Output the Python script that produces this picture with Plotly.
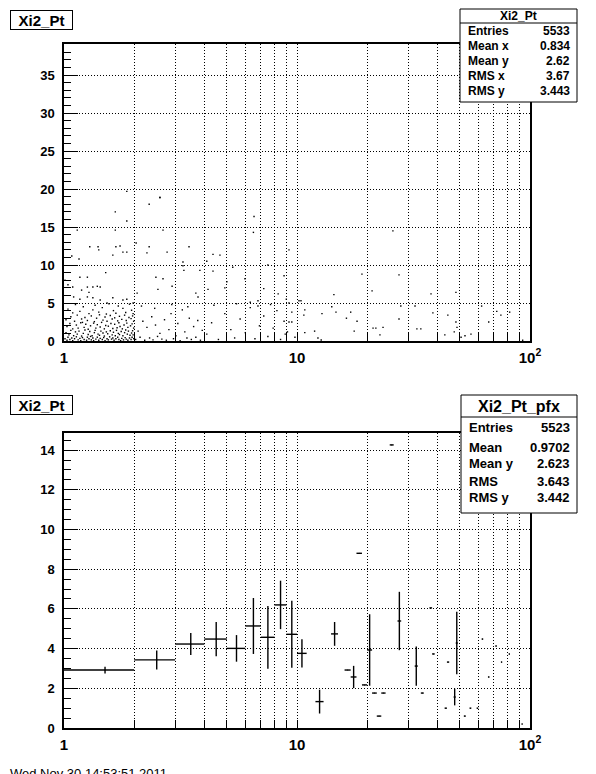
import plotly.graph_objects as go

W, H = 596, 774

# ---------------- top panel: scatter (Pt vs Xi2), dots
scat_x = [
    # dense band x 1-2, y 0-0.6
    1.01, 1.03, 1.04, 1.06, 1.08, 1.09, 1.11, 1.13, 1.15, 1.17, 1.18, 1.20, 1.22, 1.25, 1.26,
    1.28, 1.31, 1.33, 1.34, 1.37, 1.39, 1.41, 1.43, 1.46, 1.48, 1.50, 1.53, 1.55, 1.57, 1.60,
    1.62, 1.64, 1.67, 1.70, 1.72, 1.75, 1.77, 1.80, 1.83, 1.85, 1.88, 1.91, 1.94, 1.96, 1.99,
    # y 0.6-1.5
    1.02, 1.05, 1.07, 1.10, 1.12, 1.14, 1.16, 1.19, 1.21, 1.23, 1.27, 1.29, 1.32, 1.35, 1.36,
    1.40, 1.42, 1.44, 1.47, 1.49, 1.52, 1.54, 1.58, 1.61, 1.63, 1.66, 1.68, 1.71, 1.73, 1.76,
    1.79, 1.82, 1.84, 1.87, 1.89, 1.92, 1.95, 1.97, 1.98, 1.30,
    # y 1.5-2.5
    1.03, 1.06, 1.09, 1.13, 1.15, 1.18, 1.22, 1.24, 1.27, 1.30, 1.34, 1.37, 1.39, 1.43, 1.45,
    1.49, 1.51, 1.55, 1.59, 1.62, 1.65, 1.69, 1.72, 1.74, 1.78, 1.81, 1.86, 1.88, 1.93, 1.96,
    1.99, 1.20,
    # y 2.5-3.5
    1.02, 1.07, 1.11, 1.14, 1.19, 1.23, 1.26, 1.31, 1.35, 1.38, 1.42, 1.47, 1.50, 1.53, 1.58,
    1.61, 1.65, 1.70, 1.73, 1.77, 1.82, 1.85, 1.90, 1.94, 1.97, 1.99,
    # y 3.5-5
    1.04, 1.09, 1.12, 1.17, 1.21, 1.28, 1.33, 1.36, 1.41, 1.46, 1.52, 1.56, 1.63, 1.67, 1.71,
    1.79, 1.84, 1.91, 1.95, 1.98,
    # x 1-2, y above 5
    1.29, 1.40, 1.41, 1.67, 1.74, 1.08, 1.62, 1.79, 1.86, 1.16, 1.17, 1.26, 1.51, 1.01, 1.04,
    1.09, 1.26, 1.33, 1.43, 1.39, 1.19, 1.28, 1.10, 1.17, 1.26, 1.33, 1.43, 1.53, 1.62, 1.79,
    1.86, 1.98, 1.14, 1.66, 1.86, 1.66,
    # x 2-4, y 0-5
    2.03, 2.08, 2.12, 2.18, 2.22, 2.27, 2.33, 2.38, 2.41, 2.47, 2.52, 2.58, 2.63, 2.70, 2.75,
    2.82, 2.88, 2.95, 3.02, 3.08, 3.15, 3.22, 3.30, 3.37, 3.45, 3.52, 3.60, 3.68, 3.75, 3.85,
    3.92, 2.15, 2.45, 2.90, 3.40,
    # x 2-10, y above 5
    2.32, 2.66, 2.04, 2.32, 2.27, 2.77, 4.36, 4.67, 4.10, 3.24, 2.66, 2.48, 3.24, 3.27, 3.83,
    4.36, 5.30, 5.98, 5.00, 2.06, 2.53, 2.91, 3.68, 3.76, 4.15, 4.90, 6.54, 6.50, 3.44, 2.58,
    7.50, 8.30, 9.00, 6.80, 7.20, 8.80, 6.30, 9.24, 9.24,
    # x 4-10, y 0-5
    4.1, 4.3, 4.6, 4.9, 5.2, 5.4, 5.7, 6.0, 6.3, 6.6, 6.9, 7.2, 7.5, 7.9, 8.2,
    8.5, 8.8, 9.1, 9.5, 9.8, 4.4, 5.5, 6.8, 7.7, 8.9, 9.24, 9.5,
    # x 10-100
    25.8, 19.0, 27.4, 21.0, 14.4, 37.6, 48.1, 10.2, 10.4, 14.1, 14.7, 10.8, 10.7, 12.8, 17.0,
    16.3, 18.1, 27.9, 27.4, 32.1, 38.3, 44.4, 48.1, 48.6, 47.3, 43.1, 52.6, 55.8, 62.0, 72.0,
    75.0, 66.5, 81.8, 93.0, 21.2, 21.8, 23.4, 22.7, 32.7, 34.0, 17.6, 11.9, 12.3, 12.7, 10.8,
    50.6,
    # extra sparse dots high up
    1.86, 2.58,
]
scat_y = [
    0.30, 0.10, 0.50, 0.20, 0.40, 0.05, 0.30, 0.55, 0.15, 0.35, 0.05, 0.45, 0.20, 0.10, 0.50,
    0.30, 0.15, 0.40, 0.05, 0.25, 0.50, 0.10, 0.35, 0.20, 0.45, 0.05, 0.30, 0.15, 0.55, 0.25,
    0.40, 0.10, 0.30, 0.50, 0.20, 0.05, 0.35, 0.15, 0.45, 0.25, 0.10, 0.40, 0.20, 0.50, 0.30,
    1.10, 0.80, 1.40, 0.70, 1.20, 0.90, 1.30, 0.65, 1.00, 1.45, 0.85, 1.25, 0.70, 1.10, 1.40,
    0.90, 0.75, 1.30, 1.05, 0.65, 1.20, 0.95, 1.35, 0.80, 1.15, 0.70, 1.40, 1.00, 0.85, 1.25,
    0.70, 1.10, 1.45, 0.90, 1.30, 0.75, 1.05, 1.35, 0.80, 0.60,
    1.90, 2.30, 1.60, 2.10, 1.70, 2.40, 1.80, 2.20, 1.55, 2.00, 2.35, 1.70, 2.15, 1.85, 2.45,
    1.60, 2.05, 1.95, 2.30, 1.65, 2.20, 1.75, 2.40, 1.90, 1.60, 2.10, 2.35, 1.80, 2.00, 2.25,
    1.70, 2.45,
    2.80, 3.20, 2.60, 3.40, 2.90, 3.10, 2.70, 3.30, 2.55, 3.00, 3.45, 2.75, 3.15, 2.60, 3.35,
    2.90, 3.05, 2.65, 3.25, 2.85, 3.40, 2.70, 3.10, 2.95, 3.30, 2.60,
    4.20, 3.70, 4.80, 3.90, 4.50, 3.60, 4.10, 4.70, 3.80, 4.40, 3.55, 4.90, 4.00, 3.65, 4.60,
    4.30, 3.75, 4.85, 4.05, 3.60,
    12.4, 12.4, 12.0, 12.4, 12.5, 11.2, 11.3, 11.7, 11.7, 10.8, 8.4, 8.4, 9.0, 8.0, 7.4,
    7.1, 7.1, 7.1, 7.1, 7.2, 6.7, 6.4, 5.8, 5.5, 5.8, 5.7, 5.4, 5.0, 5.7, 5.4,
    5.5, 5.0, 14.6, 14.6, 15.8, 17.0,
    0.20, 1.30, 0.50, 2.60, 0.10, 1.80, 0.40, 3.20, 0.15, 2.10, 0.60, 1.00, 0.25, 2.80, 0.10,
    1.50, 3.60, 0.30, 0.70, 2.30, 0.05, 4.10, 1.20, 0.40, 3.00, 0.20, 1.90, 0.50, 2.70, 0.10,
    1.40, 4.60, 4.30, 4.80, 4.50,
    18.0, 14.6, 12.9, 12.4, 11.6, 11.7, 11.4, 11.3, 10.5, 10.4, 8.2, 8.4, 9.9, 9.3, 9.3,
    9.2, 9.7, 8.2, 7.8, 6.3, 6.8, 7.2, 6.3, 5.8, 6.8, 7.0, 16.4, 14.3, 12.4, 18.9,
    10.0, 6.2, 5.5, 5.3, 6.9, 8.6, 5.1, 12.0, 5.0,
    0.9, 2.4, 0.2, 3.6, 1.5, 0.4, 2.9, 1.1, 4.4, 0.3, 2.0, 3.3, 0.6, 1.7, 4.0,
    0.2, 2.6, 1.2, 3.8, 0.5, 4.7, 4.9, 4.6, 4.8, 0.9, 2.5, 2.5,
    14.5, 8.8, 8.7, 6.6, 6.1, 6.2, 6.4, 5.3, 5.3, 4.5, 3.8, 4.1, 3.4, 3.6, 3.8,
    3.0, 2.6, 4.6, 2.9, 4.6, 3.7, 3.4, 2.5, 1.8, 1.2, 0.8, 0.7, 0.9, 4.6, 3.9,
    3.4, 2.5, 3.8, 0.1, 1.7, 1.7, 1.8, 0.8, 1.6, 1.6, 1.3, 1.3, 0.4, 0.13, 1.1,
    0.5,
    19.7, 18.9,
]

# ---------------- bottom panel: profile (bins of width 1)
prof_lo = [1, 2, 3, 4, 5, 6, 7, 8, 9, 10, 12, 14, 16, 17, 18, 19, 20, 21, 22, 23,
           25, 27, 32, 34, 37, 38, 43, 44, 47, 48, 52, 55, 59, 62, 66, 71, 75, 81, 92]
prof_mean = [2.92, 3.43, 4.23, 4.48, 4.01, 5.14, 4.57, 6.20, 4.72, 3.76, 1.33, 4.74, 2.92, 2.57,
             8.80, 2.17, 3.93, 1.76, 0.60, 1.76, 14.26, 5.39, 3.12, 1.76, 6.05, 3.73, 1.00, 3.32,
             1.56, 4.28, 0.60, 1.00, 1.00, 4.48, 2.57, 4.13, 3.32, 3.73, 0.20]
prof_err = [0.17, 0.48, 0.55, 0.86, 0.67, 1.41, 1.58, 1.22, 1.69, 0.71, 0.60, 0.60, 0.0, 0.56,
            0.0, 0.0, 1.80, 0.0, 0.0, 0.0, 0.0, 1.47, 0.99, 0.0, 0.0, 0.0, 0.0, 0.0,
            0.42, 1.57, 0.0, 0.0, 0.0, 0.0, 0.0, 0.0, 0.0, 0.0, 0.0]
bin_width = 1.0

x_ticks = [1, 2, 3, 4, 5, 6, 7, 8, 9, 10, 20, 30, 40, 50, 60, 70, 80, 90, 100]
x_ticktext = ["1" if v == 1 else ("10" if v == 10 else ("10<sup>2</sup>" if v == 100 else "")) for v in x_ticks]

top_yticks = [0, 5, 10, 15, 20, 25, 30, 35]
bot_yticks = [0, 2, 4, 6, 8, 10, 12, 14]

stats_top = [("Entries", "5533"), ("Mean x", "0.834"), ("Mean y", "2.62"), ("RMS x", "3.67"), ("RMS y", "3.443")]
stats_bot = [("Entries", "5523"), ("Mean", "0.9702"), ("Mean y", "2.623"), ("RMS", "3.643"), ("RMS y", "3.442")]

FONT = "Liberation Sans"
DOT = "1px,2px"


def px(x):
    return x / W


def py(y):
    return 1 - y / H


fig = go.Figure()

fig.add_trace(go.Scatter(
    x=scat_x, y=scat_y, mode="markers", xaxis="x", yaxis="y",
    marker=dict(symbol="square", size=1.4, color="black", line=dict(width=0)),
    hoverinfo="skip", showlegend=False))

centers = [lo + bin_width / 2 for lo in prof_lo]
fig.add_trace(go.Scatter(
    x=centers, y=prof_mean, mode="markers", xaxis="x2", yaxis="y2",
    marker=dict(size=1, color="black"),
    error_x=dict(type="data", symmetric=False, array=[bin_width / 2] * len(centers),
                 arrayminus=[bin_width / 2] * len(centers), width=0, thickness=1.4, color="black"),
    error_y=dict(type="data", array=prof_err, width=0, thickness=1.4, color="black"),
    hoverinfo="skip", showlegend=False))

xcommon = dict(type="log", tickvals=x_ticks, ticktext=x_ticktext, ticks="inside", ticklen=8,
               tickcolor="black", tickwidth=1, showgrid=True, gridcolor="black", griddash=DOT,
               gridwidth=1, showline=True, linecolor="black", linewidth=1.5, mirror=True,
               zeroline=False, tickfont=dict(family=FONT, size=15, color="black", weight="bold"),
               automargin=False, ticklabelstandoff=2, domain=[px(64), px(530)], range=[0, 2])
ycommon = dict(ticks="inside", ticklen=14, tickcolor="black", tickwidth=1, showgrid=True,
               gridcolor="black", griddash=DOT, gridwidth=1, showline=True, linecolor="black",
               linewidth=1.5, mirror=True, zeroline=False,
               tickfont=dict(family=FONT, size=13, color="black", weight="bold"),
               automargin=False, ticklabelstandoff=5)

fig.update_layout(
    width=W, height=H, margin=dict(l=0, r=0, t=0, b=0),
    paper_bgcolor="white", plot_bgcolor="white",
    xaxis=dict(**xcommon, anchor="y"),
    yaxis=dict(**ycommon, anchor="x", domain=[py(341), py(44)], range=[0, 39.1], tickvals=top_yticks,
               minor=dict(dtick=1, ticks="inside", ticklen=7, tickcolor="black", showgrid=False)),
    xaxis2=dict(**xcommon, anchor="y2"),
    yaxis2=dict(**ycommon, anchor="x2", domain=[py(728), py(433)], range=[0, 14.86], tickvals=bot_yticks,
                minor=dict(dtick=0.5, ticks="inside", ticklen=7, tickcolor="black", showgrid=False)),
)

shapes = []
annotations = []

# title boxes
for ty in (20, 405):
    annotations.append(dict(x=px(41.5), y=py(ty), xref="paper", yref="paper", text="<b>Xi2_Pt</b>",
                            showarrow=False, font=dict(family=FONT, size=15, color="black"),
                            bordercolor="black", borderwidth=1, borderpad=0, bgcolor="white",
                            width=61, height=18, xanchor="center", yanchor="middle"))


def stats_box(x0, x1, y0, y1, sep, title, title_y, title_size, rows, row_ys, row_size):
    shapes.append(dict(type="rect", xref="paper", yref="paper", x0=px(x0), x1=px(x1), y0=py(y1), y1=py(y0),
                       line=dict(color="black", width=1), fillcolor="white", layer="above"))
    shapes.append(dict(type="line", xref="paper", yref="paper", x0=px(x0), x1=px(x1), y0=py(sep), y1=py(sep),
                       line=dict(color="black", width=1), layer="above"))
    annotations.append(dict(x=px((x0 + x1) / 2), y=py(title_y), xref="paper", yref="paper",
                            text="<b>%s</b>" % title, showarrow=False, xanchor="center", yanchor="middle",
                            font=dict(family=FONT, size=title_size, color="black")))
    for (lab, val), ry in zip(rows, row_ys):
        annotations.append(dict(x=px(x0 + 6), y=py(ry), xref="paper", yref="paper", text="<b>%s</b>" % lab,
                                showarrow=False, xanchor="left", yanchor="middle",
                                font=dict(family=FONT, size=row_size, color="black")))
        annotations.append(dict(x=px(x1 - 5), y=py(ry), xref="paper", yref="paper", text="<b>%s</b>" % val,
                                showarrow=False, xanchor="right", yanchor="middle",
                                font=dict(family=FONT, size=row_size, color="black")))


stats_box(460, 577, 9, 102, 23, "Xi2_Pt", 16, 12, stats_top, [31, 46, 61, 76, 91], 12)
stats_box(461, 577, 395, 513, 417, "Xi2_Pt_pfx", 406, 16, stats_bot, [427, 447, 463, 482, 497], 13)

# footer text, mostly cut off by the bottom of the page
annotations.append(dict(x=px(8), y=py(764), xref="paper", yref="paper", text="Wed Nov 30 14:53:51 2011",
                        showarrow=False, xanchor="left", yanchor="top",
                        font=dict(family=FONT, size=13, color="black")))

fig.update_layout(shapes=shapes, annotations=annotations)

fig.write_html("out.html", config={"displayModeBar": False},
               post_script="document.body.style.margin='0';document.body.style.overflow='hidden';")
